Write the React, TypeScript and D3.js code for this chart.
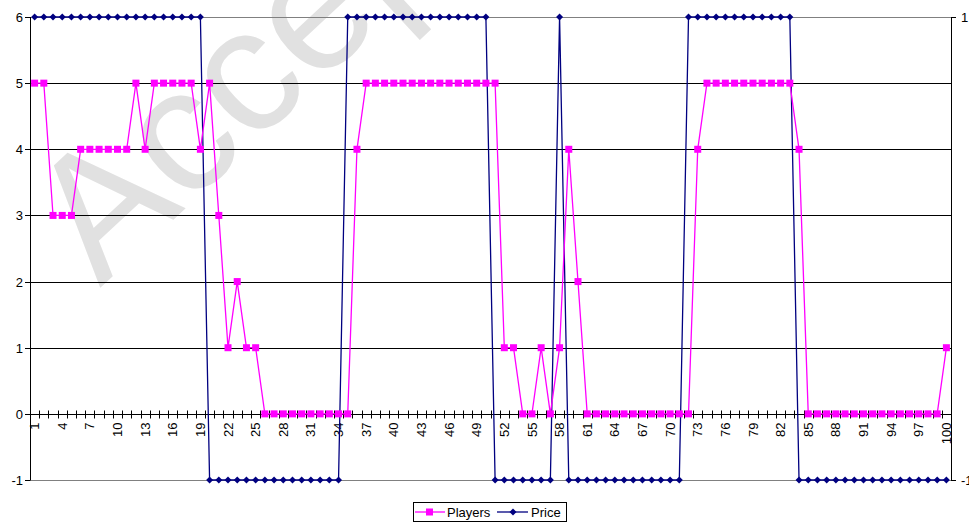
import React from "react";
import * as d3 from "d3";

const categories: string[] = Array.from({ length: 100 }, (_, i) => String(i + 1));

const players: number[] = [
  5, 5, 3, 3, 3, 4, 4, 4, 4, 4,
  4, 5, 4, 5, 5, 5, 5, 5, 4, 5,
  3, 1, 2, 1, 1, 0, 0, 0, 0, 0,
  0, 0, 0, 0, 0, 4, 5, 5, 5, 5,
  5, 5, 5, 5, 5, 5, 5, 5, 5, 5,
  5, 1, 1, 0, 0, 1, 0, 1, 4, 2,
  0, 0, 0, 0, 0, 0, 0, 0, 0, 0,
  0, 0, 4, 5, 5, 5, 5, 5, 5, 5,
  5, 5, 5, 4, 0, 0, 0, 0, 0, 0,
  0, 0, 0, 0, 0, 0, 0, 0, 0, 1,
];

const price: number[] = [
  1, 1, 1, 1, 1, 1, 1, 1, 1, 1,
  1, 1, 1, 1, 1, 1, 1, 1, 1, -1,
  -1, -1, -1, -1, -1, -1, -1, -1, -1, -1,
  -1, -1, -1, -1, 1, 1, 1, 1, 1, 1,
  1, 1, 1, 1, 1, 1, 1, 1, 1, 1,
  -1, -1, -1, -1, -1, -1, -1, 1, -1, -1,
  -1, -1, -1, -1, -1, -1, -1, -1, -1, -1,
  -1, 1, 1, 1, 1, 1, 1, 1, 1, 1,
  1, 1, 1, -1, -1, -1, -1, -1, -1, -1,
  -1, -1, -1, -1, -1, -1, -1, -1, -1, -1,
];

const leftTicks: number[] = [-1, 0, 1, 2, 3, 4, 5, 6];
const rightTicks: number[] = [-1, 1];
const seriesNames: string[] = ["Players", "Price"];

const W = 969;
const H = 523;
const FONT = "Liberation Sans, Arial, sans-serif";
const MAGENTA = "#FF00FF";
const NAVY = "#000080";

export default function App() {
  const left = 30;
  const right = 951;
  const top = 17;
  const bottom = 480;

  const x = d3.scaleBand<string>().domain(categories).range([left, right]).padding(0);
  const cx = (c: string) => (x(c) as number) + x.bandwidth() / 2;
  const y = d3.scaleLinear().domain([-1, 6]).range([bottom, top]);
  const y2 = d3.scaleLinear().domain([-1, 1]).range([bottom, top]);

  const playersLine = d3
    .line<number>()
    .x((_, i) => cx(categories[i]))
    .y((d) => y(d))(players) as string;
  const priceLine = d3
    .line<number>()
    .x((_, i) => cx(categories[i]))
    .y((d) => y2(d))(price) as string;

  const y0 = Math.round(y(0)) + 0.5;
  const boundaries = categories.map((c) => x(c) as number).concat([right]);

  const diamond = (px: number, py: number, r: number) =>
    `M${px},${py - r}L${px + r},${py}L${px},${py + r}L${px - r},${py}Z`;

  return (
    <svg
      width={W}
      height={H}
      style={{ position: "absolute", left: 0, top: 0, display: "block", background: "#fff" }}
      fontFamily={FONT}
    >
      <rect x={0} y={0} width={W} height={H} fill="#fff" />
      {/* watermark */}
      <text
        x={100}
        y={288}
        transform="rotate(-43 100 288)"
        fontSize={176}
        fill="#e1e1e1"
        fontFamily={FONT}
      >
        Accepted
      </text>

      {/* gridlines */}
      {leftTicks.map((t) => {
        const yy = Math.round(y(t)) + 0.5;
        const border = t === 6 || t === -1;
        return (
          <line
            key={"g" + t}
            x1={left}
            x2={right}
            y1={yy}
            y2={yy}
            stroke={border ? "#808080" : "#000"}
            strokeWidth={1}
          />
        );
      })}

      {/* left axis */}
      <line x1={left + 0.5} x2={left + 0.5} y1={top} y2={bottom + 0.5} stroke="#000" />
      {leftTicks.map((t) => {
        const yy = Math.round(y(t)) + 0.5;
        return (
          <g key={"l" + t}>
            <line x1={left - 5} x2={left} y1={yy} y2={yy} stroke="#000" />
            <text x={left - 7} y={yy} dy="0.35em" textAnchor="end" fontSize={13} fill="#000">
              {t}
            </text>
          </g>
        );
      })}

      {/* right axis */}
      <line x1={right + 0.5} x2={right + 0.5} y1={top} y2={bottom + 0.5} stroke="#000" />
      {rightTicks.map((t) => {
        const yy = Math.round(y2(t)) + 0.5;
        return (
          <g key={"r" + t}>
            <line x1={right} x2={right + 5} y1={yy} y2={yy} stroke="#000" />
            <text x={right + 10} y={yy} dy="0.35em" textAnchor="start" fontSize={13} fill="#000">
              {t}
            </text>
          </g>
        );
      })}

      {/* x axis at 0 */}
      <line x1={left} x2={right} y1={y0} y2={y0} stroke="#000" />
      {boundaries.map((b, i) => (
        <line
          key={"xt" + i}
          x1={Math.round(b) + 0.5}
          x2={Math.round(b) + 0.5}
          y1={y0 - 4}
          y2={y0 + 4}
          stroke="#000"
        />
      ))}
      {categories.map((c, i) =>
        i % 3 === 0 ? (
          <text
            key={"xl" + c}
            transform={`translate(${cx(c)},${y0 + 8}) rotate(-90)`}
            dy="0.35em"
            textAnchor="end"
            fontSize={13}
            fill="#000"
          >
            {c}
          </text>
        ) : null
      )}

      {/* Price series */}
      <path d={priceLine} fill="none" stroke={NAVY} strokeWidth={1.3} />
      {price.map((v, i) => (
        <path key={"pd" + i} d={diamond(cx(categories[i]), y2(v), 3.5)} fill={NAVY} />
      ))}

      {/* Players series */}
      <path d={playersLine} fill="none" stroke={MAGENTA} strokeWidth={1.3} />
      {players.map((v, i) => (
        <rect
          key={"ps" + i}
          x={cx(categories[i]) - 3.5}
          y={y(v) - 3.5}
          width={7}
          height={7}
          fill={MAGENTA}
        />
      ))}

      {/* legend */}
      <rect x={413.5} y={502.5} width={153} height={19} fill="#fff" stroke="#000" />
      <line x1={415} x2={445} y1={512} y2={512} stroke={MAGENTA} strokeWidth={1.3} />
      <rect x={426} y={508.5} width={7} height={7} fill={MAGENTA} />
      <text x={447} y={512} dy="0.35em" fontSize={13} fill="#000">
        {seriesNames[0]}
      </text>
      <line x1={497} x2={528} y1={512} y2={512} stroke={NAVY} strokeWidth={1.3} />
      <path d={diamond(513, 512, 3.5)} fill={NAVY} />
      <text x={531} y={512} dy="0.35em" fontSize={13} fill="#000">
        {seriesNames[1]}
      </text>
    </svg>
  );
}
